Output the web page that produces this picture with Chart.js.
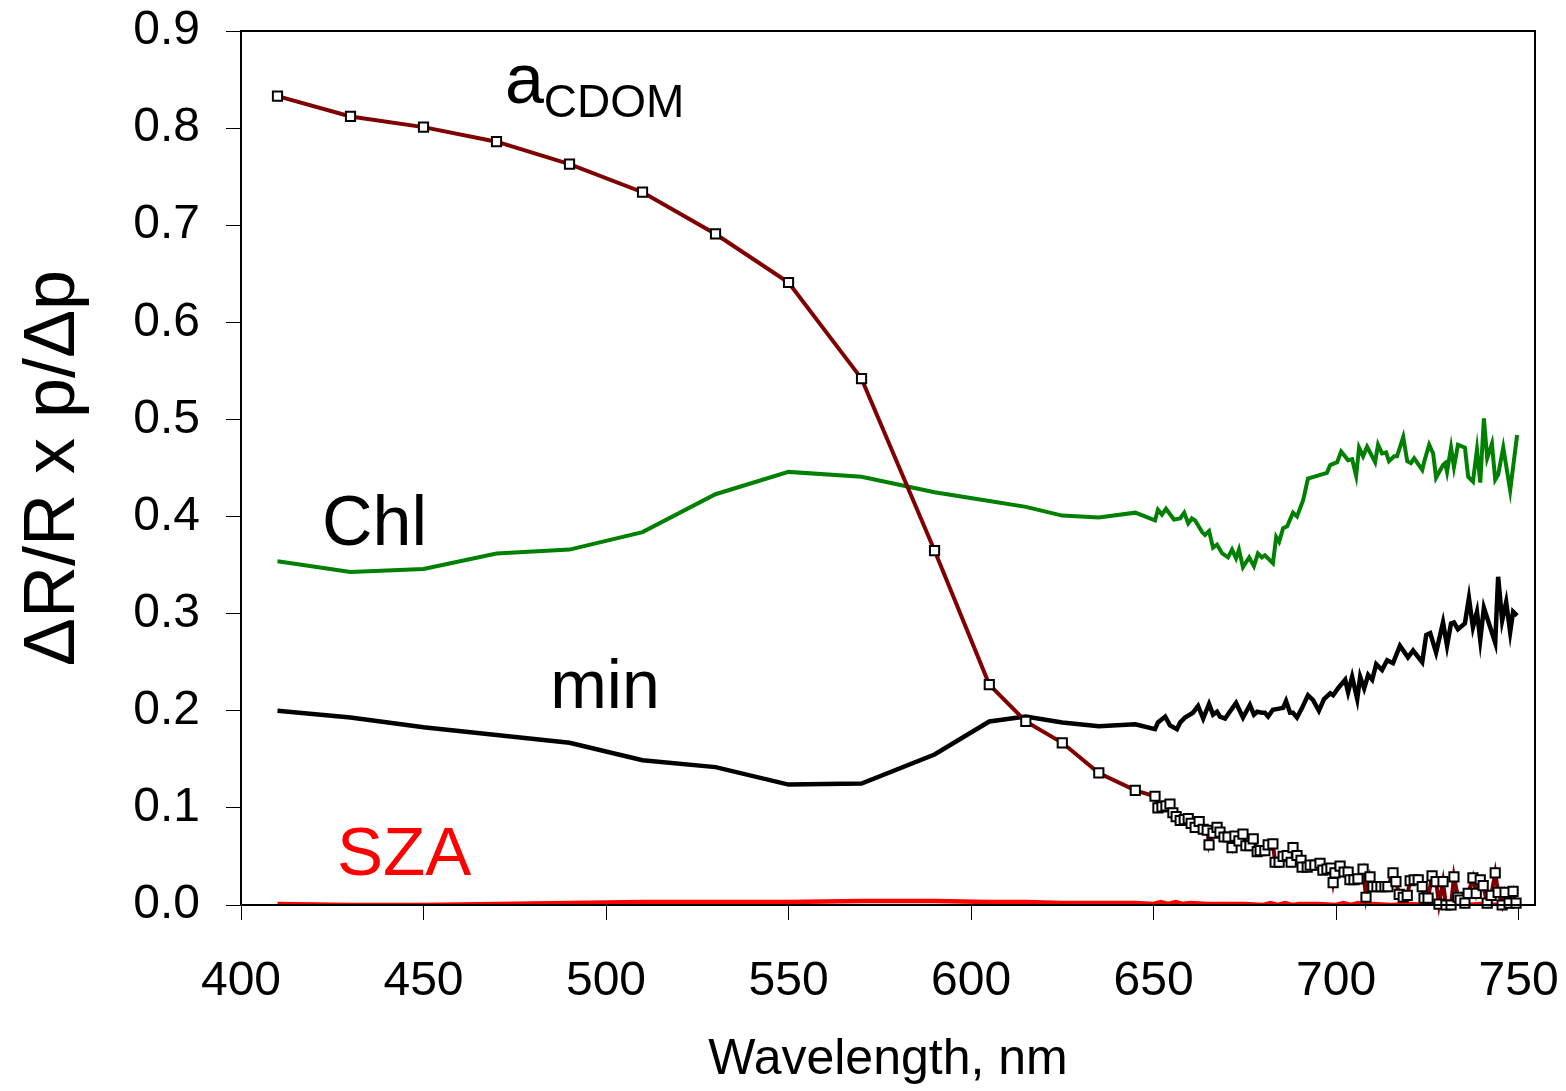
<!DOCTYPE html>
<html>
<head>
<meta charset="utf-8">
<script src="https://cdn.jsdelivr.net/npm/chart.js@4"></script>
<style>
  html, body { margin: 0; padding: 0; background: #fff; }
  #wrap { width: 1566px; height: 1091px; }
</style>
</head>
<body>
<div id="wrap"><canvas id="chart" width="1566" height="1091"></canvas></div>
<script>
// tick values
const xTicks = [400, 450, 500, 550, 600, 650, 700, 750];

// a_CDOM series
const cdomWl = [410, 430, 450, 470, 490, 510, 530, 550, 570, 590, 605, 615, 625, 635, 645,
  650.4, 651.2, 652.3, 653.4, 654.5, 655.3, 656.2, 657.3, 658.4, 659.5, 660.3, 661.4, 662.5, 663.6, 664.7,
  665.2, 666.3, 667.4, 668.2, 669.3, 670.4, 671.5, 672.3, 673.4, 674.5, 675.3, 676.4, 677.3, 678.4, 679.2,
  680.5, 681.4, 682.7, 683.3, 684.4, 685.5, 686.6, 687.7, 688.2, 689.3, 690.4, 690.7, 692.1, 692.9, 694.2,
  695.6, 696.4, 697.5, 698.6, 699.2, 699.7, 701.1, 702.2, 703.3, 703.8, 704.9, 706.0, 707.4, 708.2, 709.3,
  710.1, 711.2, 712.3, 713.4, 714.2, 715.6, 716.4, 717.3, 718.4, 719.5, 720.3, 721.4, 722.5, 723.6, 724.1,
  725.2, 726.3, 727.4, 728.2, 729.3, 730.1, 731.5, 732.3, 733.4, 734.0, 735.3, 736.2, 737.5, 738.4, 739.5,
  740.3, 741.4, 742.5, 743.6, 744.4, 745.5, 746.3, 747.4, 748.5, 749.3];
const cdomVal = [0.833, 0.812, 0.801, 0.786, 0.763, 0.734, 0.691, 0.641, 0.542, 0.365, 0.227, 0.189, 0.167, 0.136, 0.118,
  0.112, 0.100, 0.101, 0.102, 0.104, 0.095, 0.091, 0.087, 0.088, 0.089, 0.084, 0.080, 0.086, 0.078, 0.077,
  0.062, 0.074, 0.080, 0.075, 0.070, 0.070, 0.059, 0.071, 0.066, 0.073, 0.061, 0.061, 0.068, 0.055, 0.056,
  0.056, 0.062, 0.063, 0.044, 0.044, 0.050, 0.051, 0.044, 0.059, 0.051, 0.046, 0.039, 0.039, 0.041, 0.041,
  0.043, 0.036, 0.037, 0.038, 0.023, 0.033, 0.040, 0.034, 0.034, 0.026, 0.026, 0.027, 0.037, 0.008, 0.029,
  0.019, 0.019, 0.019, 0.019, 0.019, 0.033, 0.024, 0.011, 0.008, 0.010, 0.025, 0.026, 0.026, 0.019, 0.007,
  0.007, 0.030, 0.024, 0.001, 0.024, 0.000, 0.000, 0.029, 0.008, 0.005, 0.002, 0.012, 0.028, 0.012, 0.026,
  0.020, 0.002, 0.010, 0.033, 0.013, 0.000, 0.013, 0.002, 0.014, 0.002];

// Chl series
const chlWl = [410, 430, 450, 470, 490, 510, 530, 550, 570, 590, 605, 615, 625, 635, 645,
  650.4, 651.2, 652.3, 653.4, 655.6, 657.3, 658.4, 659.5, 660.5, 661.4, 663.3, 664.1, 665.2, 666.3, 667.4,
  668.8, 670.4, 671.5, 672.6, 673.4, 674.5, 676.2, 677.5, 678.6, 679.7, 680.5, 682.7, 683.6, 684.4, 685.5,
  686.6, 688.2, 689.3, 691.0, 692.3, 697.5, 698.4, 700.3, 701.4, 703.3, 704.4, 705.5, 706.3, 707.4, 708.5,
  710.7, 711.5, 712.6, 713.7, 714.5, 715.9, 716.7, 718.4, 719.5, 720.5, 721.4, 723.6, 724.1, 725.5, 726.6,
  727.4, 729.3, 729.9, 730.4, 731.5, 732.3, 733.4, 735.3, 736.2, 737.5, 738.6, 739.5, 740.5, 741.4, 742.7,
  743.6, 744.4, 745.8, 747.7, 749.6];
const chlVal = [0.354, 0.343, 0.346, 0.362, 0.366, 0.384, 0.423, 0.446, 0.441, 0.425, 0.416, 0.410, 0.401, 0.399, 0.404,
  0.396, 0.407, 0.402, 0.408, 0.397, 0.398, 0.404, 0.393, 0.398, 0.396, 0.384, 0.381, 0.385, 0.368, 0.371,
  0.362, 0.358, 0.366, 0.357, 0.366, 0.348, 0.358, 0.349, 0.362, 0.358, 0.360, 0.352, 0.379, 0.374, 0.388,
  0.390, 0.404, 0.400, 0.417, 0.439, 0.445, 0.453, 0.456, 0.467, 0.458, 0.459, 0.442, 0.471, 0.462, 0.472,
  0.456, 0.474, 0.465, 0.466, 0.457, 0.462, 0.462, 0.482, 0.457, 0.455, 0.460, 0.448, 0.456, 0.474, 0.465,
  0.440, 0.453, 0.455, 0.446, 0.471, 0.451, 0.474, 0.471, 0.441, 0.436, 0.469, 0.435, 0.501, 0.460, 0.475,
  0.438, 0.443, 0.471, 0.427, 0.484];

// min series
const minWl = [410, 430, 450, 470, 490, 510, 530, 550, 570, 590, 605, 615, 625, 635, 645,
  650.4, 651.2, 653.2, 654.5, 656.4, 657.3, 658.6, 660.8, 662.2, 663.6, 665.2, 666.3, 667.4, 668.2, 669.6,
  670.7, 672.6, 674.5, 676.4, 677.5, 678.4, 679.7, 680.5, 681.4, 682.7, 685.5, 686.3, 687.4, 688.2, 689.3,
  690.7, 692.3, 693.7, 695.3, 696.7, 698.4, 699.2, 700.5, 702.5, 703.3, 704.4, 705.8, 706.6, 707.7, 708.8,
  709.9, 711.0, 712.6, 714.0, 715.6, 717.5, 719.7, 721.1, 723.6, 724.7, 725.8, 727.4, 729.3, 730.4, 731.5,
  732.3, 733.4, 735.3, 736.4, 737.5, 738.6, 739.5, 740.5, 743.6, 744.4, 745.5, 746.6, 747.7, 748.5, 749.6];
const minVal = [0.200, 0.193, 0.183, 0.175, 0.167, 0.149, 0.142, 0.124, 0.125, 0.155, 0.189, 0.194, 0.188, 0.184, 0.186,
  0.181, 0.188, 0.194, 0.185, 0.181, 0.188, 0.193, 0.198, 0.205, 0.192, 0.207, 0.196, 0.199, 0.194, 0.192,
  0.198, 0.208, 0.193, 0.206, 0.196, 0.199, 0.198, 0.198, 0.194, 0.201, 0.203, 0.210, 0.198, 0.198, 0.193,
  0.203, 0.216, 0.211, 0.200, 0.212, 0.218, 0.216, 0.223, 0.232, 0.219, 0.235, 0.212, 0.235, 0.223, 0.237,
  0.232, 0.248, 0.242, 0.252, 0.249, 0.267, 0.255, 0.262, 0.250, 0.278, 0.280, 0.260, 0.291, 0.267, 0.290,
  0.291, 0.284, 0.290, 0.316, 0.286, 0.302, 0.273, 0.306, 0.270, 0.338, 0.293, 0.312, 0.281, 0.302, 0.298];

// SZA series
const szaWl = [410, 430, 450, 470, 490, 510, 530, 550, 570, 590, 605, 615, 625, 635, 645,
  650, 652, 654, 656, 658, 660, 665, 670, 675, 680, 682, 684, 686, 688, 690,
  695, 700, 702, 704, 706, 708, 710, 715, 720, 725, 730, 735, 740, 745, 750];
const szaVal = [0.001, 0.000, 0.000, 0.001, 0.002, 0.003, 0.003, 0.003, 0.004, 0.004, 0.003, 0.003, 0.002, 0.002, 0.002,
  0.001, 0.003, 0.001, 0.003, 0.001, 0.002, 0.001, 0.001, 0.001, 0.000, 0.002, 0.000, 0.002, 0.000, 0.001,
  0.001, 0.000, 0.002, 0.000, 0.002, 0.000, 0.001, 0.000, 0.001, 0.000, 0.000, 0.000, 0.001, 0.000, 0.000];

const FONT = "'Liberation Sans', Arial, sans-serif";

function pts(wl, val) {
  return wl.map((w, i) => ({ x: w, y: val[i] }));
}

// curve labels drawn at data positions
const curveLabels = [
  { text: 'Chl', x: 422.2, y: 0.371, size: 70, color: '#000' },
  { text: 'min', x: 484.7, y: 0.203, size: 68, color: '#000' },
  { text: 'SZA', x: 426.3, y: 0.031, size: 69, color: '#ff0000' }
];

const labelPlugin = {
  id: 'curveLabels',
  afterDatasetsDraw(chart) {
    const c = chart.ctx;
    const xs = chart.scales.x, ys = chart.scales.y;
    const a = chart.chartArea;
    c.save();
    // plot frame
    c.strokeStyle = '#000';
    c.lineWidth = 2;
    c.strokeRect(a.left, a.top, a.right - a.left, a.bottom - a.top);
    c.textBaseline = 'alphabetic';
    c.textAlign = 'left';
    curveLabels.forEach(l => {
      c.font = l.size + 'px ' + FONT;
      c.fillStyle = l.color;
      c.fillText(l.text, xs.getPixelForValue(l.x), ys.getPixelForValue(l.y));
    });
    // a with subscript CDOM
    const ax = xs.getPixelForValue(472.3);
    c.fillStyle = '#000';
    c.font = '70px ' + FONT;
    c.fillText('a', ax, ys.getPixelForValue(0.826));
    const aw = c.measureText('a').width;
    c.font = '46px ' + FONT;
    c.fillText('CDOM', ax + aw, ys.getPixelForValue(0.811));
    c.restore();
  }
};

const ctx = document.getElementById('chart').getContext('2d');

new Chart(ctx, {
  type: 'line',
  data: {
    datasets: [
      {
        label: 'aCDOM',
        data: pts(cdomWl, cdomVal),
        borderColor: '#800000',
        borderWidth: 4,
        pointStyle: 'rect',
        pointRadius: 6.5,
        pointBackgroundColor: '#fff',
        pointBorderColor: '#000',
        pointBorderWidth: 2,
        clip: false
      },
      {
        label: 'min',
        data: pts(minWl, minVal),
        borderColor: '#000',
        borderWidth: 4.5,
        pointRadius: 0
      },
      {
        label: 'Chl',
        data: pts(chlWl, chlVal),
        borderColor: '#008000',
        borderWidth: 4,
        pointRadius: 0
      },
      {
        label: 'SZA',
        data: pts(szaWl, szaVal),
        borderColor: '#ff0000',
        borderWidth: 4.5,
        pointRadius: 0
      }
    ]
  },
  options: {
    responsive: false,
    animation: false,
    events: [],
    layout: { padding: { top: 31, right: 31, left: 0, bottom: 0 } },
    plugins: {
      legend: { display: false },
      tooltip: { enabled: false }
    },
    scales: {
      x: {
        type: 'linear',
        min: 400,
        max: 754.5,
        afterBuildTicks: s => { s.ticks = xTicks.map(v => ({ value: v })); },
        afterFit: s => { s.height = 186; s.paddingLeft = 0; s.paddingRight = 0; },
        grid: { drawOnChartArea: false, tickLength: 15, color: '#000', lineWidth: 1 },
        border: { color: '#000', width: 2 },
        ticks: { color: '#000', font: { family: FONT, size: 48 }, padding: 33, maxRotation: 0 },
        title: {
          display: true,
          text: 'Wavelength, nm',
          color: '#000',
          font: { family: FONT, size: 50 },
          padding: { top: 0, bottom: 1 }
        }
      },
      y: {
        min: 0,
        max: 0.9,
        afterFit: s => { s.width = 241; s.paddingTop = 0; s.paddingBottom = 0; },
        grid: { drawOnChartArea: false, tickLength: 15, color: '#000', lineWidth: 1 },
        border: { color: '#000', width: 2 },
        ticks: {
          stepSize: 0.1,
          color: '#000',
          font: { family: FONT, size: 48 },
          padding: 26,
          callback: v => v.toFixed(1)
        },
        title: {
          display: true,
          text: 'ΔR/R x p/Δp',
          color: '#000',
          font: { family: FONT, size: 72 },
          padding: { top: 11, bottom: 0 }
        }
      }
    }
  },
  plugins: [labelPlugin]
});
</script>
</body>
</html>
